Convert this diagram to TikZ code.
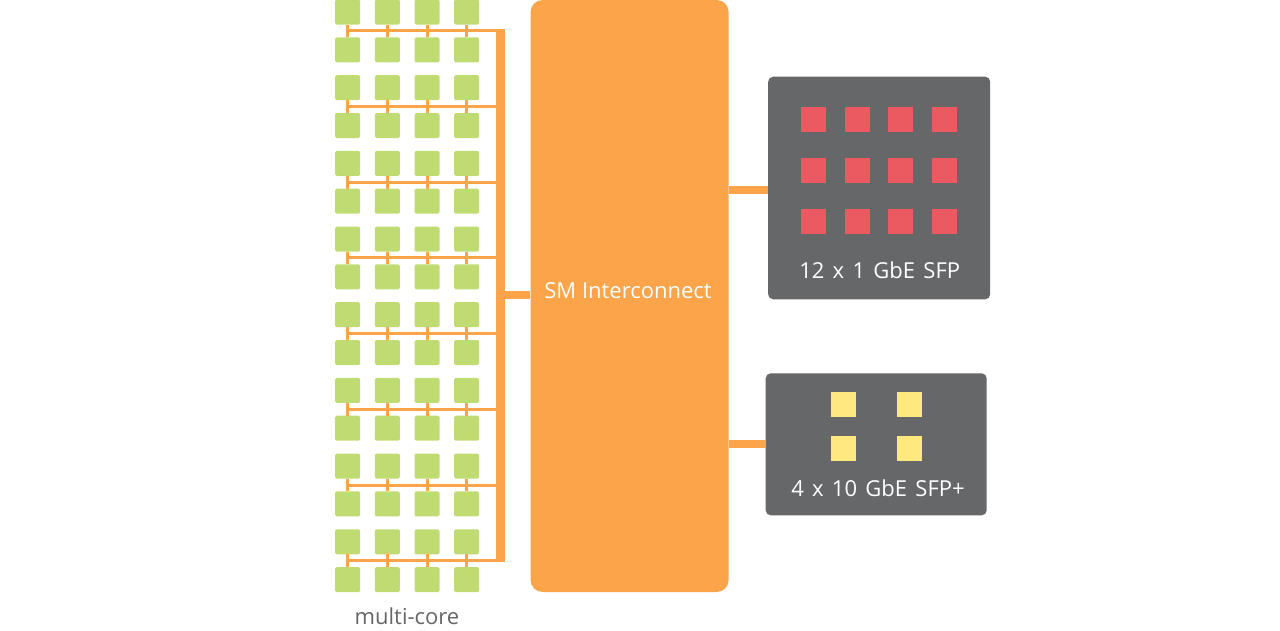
\documentclass[tikz,border=0pt]{standalone}
\usepackage{fontspec}
\setmainfont{Open Sans}
\newfontfamily\portfont[WordSpace=1.45]{Open Sans}
\usetikzlibrary{calc}
\definecolor{orng}{HTML}{FBA449}
\definecolor{grn}{HTML}{C0DB72}
\definecolor{gry}{HTML}{666768}
\definecolor{rd}{HTML}{EB5A60}
\definecolor{ylw}{HTML}{FFE880}
\definecolor{txtgry}{HTML}{666666}
\begin{document}
\begin{tikzpicture}[x=1pt,y=-1pt,
  core/.style={fill=grn,rounded corners=1.5pt,minimum size=25pt,inner sep=0pt,draw=none},
  port/.style={fill=rd,minimum size=25pt,inner sep=0pt,draw=none},
  portp/.style={fill=ylw,minimum size=25pt,inner sep=0pt,draw=none},
  thin bus/.style={draw=orng,line width=3pt},
  thick bus/.style={draw=orng,line width=9pt},
  link/.style={draw=orng,line width=8pt},
  panel/.style={fill=gry,rounded corners=5pt,inner sep=0pt,draw=none},
  lbl/.style={text=white,font=\fontsize{22}{26}\selectfont,inner sep=0pt,anchor=base},
  plbl/.style={lbl,font=\portfont\fontsize{22}{26}\selectfont}]
\useasboundingbox (0,0) rectangle (1280,630);

% multi-core grid
\foreach \r in {1,...,16}{
  \foreach \c in {1,...,4}{
    \node[core] (c-\r-\c) at ({347.7+(\c-1)*39.65},{12+(\r-1)*37.84}) {};
  }
}
% vertical bus
\coordinate (busTop) at (500.5,29.3);
\coordinate (busBot) at (500.5,562);
\draw[thick bus] (busTop) -- (busBot);
% horizontal buses and stubs
\foreach \k in {1,...,8}{
  \pgfmathtruncatemacro{\ra}{2*\k-1}
  \pgfmathtruncatemacro{\rb}{2*\k}
  \coordinate (h\k) at ($(c-\ra-1.south)!0.5!(c-\rb-1.north)$);
  \draw[thin bus] (h\k) -- (h\k -| busTop);
  \foreach \c in {1,...,4}{
    \draw[thin bus] (c-\ra-\c.south) -- (c-\rb-\c.north);
  }
}
\node[text=txtgry,font=\fontsize{22}{26}\selectfont,inner sep=0pt,anchor=base] (mc) at (407,624) {multi-core};

% interconnect
\node[fill=orng,rounded corners=12pt,minimum width=198pt,minimum height=592pt,inner sep=0pt] (ic) at (629.6,296) {};
\node[lbl] (icl) at (628,298.3) {SM Interconnect};
\coordinate (bm) at (500.5,295);
\draw[link] (bm) -- (bm -| ic.west);

% 12 x 1 GbE SFP
\node[panel,minimum width=222pt,minimum height=222.6pt] (sfp) at (879.2,188) {};
\foreach \r in {1,2,3}{
  \foreach \c in {1,...,4}{
    \node[port] (s-\r-\c) at ({813.3+(\c-1)*43.7},{119.3+(\r-1)*51.2}) {};
  }
}
\node[plbl] (sfpl) at (879.7,278.3) {12 x 1 GbE SFP};
\coordinate (p1) at (728.7,190);
\draw[link] (p1) -- (p1 -| sfp.west);

% 4 x 10 GbE SFP+
\node[panel,minimum width=221pt,minimum height=142pt] (sfpp) at (876.2,444.3) {};
\foreach \r in {1,2}{
  \foreach \c in {1,2}{
    \node[portp] (y-\r-\c) at ({843.5+(\c-1)*65.5},{404.2+(\r-1)*44}) {};
  }
}
\node[plbl] (sfppl) at (878,496) {4 x 10 GbE SFP+};
\coordinate (p2) at (728.7,444);
\draw[link] (p2) -- (p2 -| sfpp.west);
\end{tikzpicture}
\end{document}
